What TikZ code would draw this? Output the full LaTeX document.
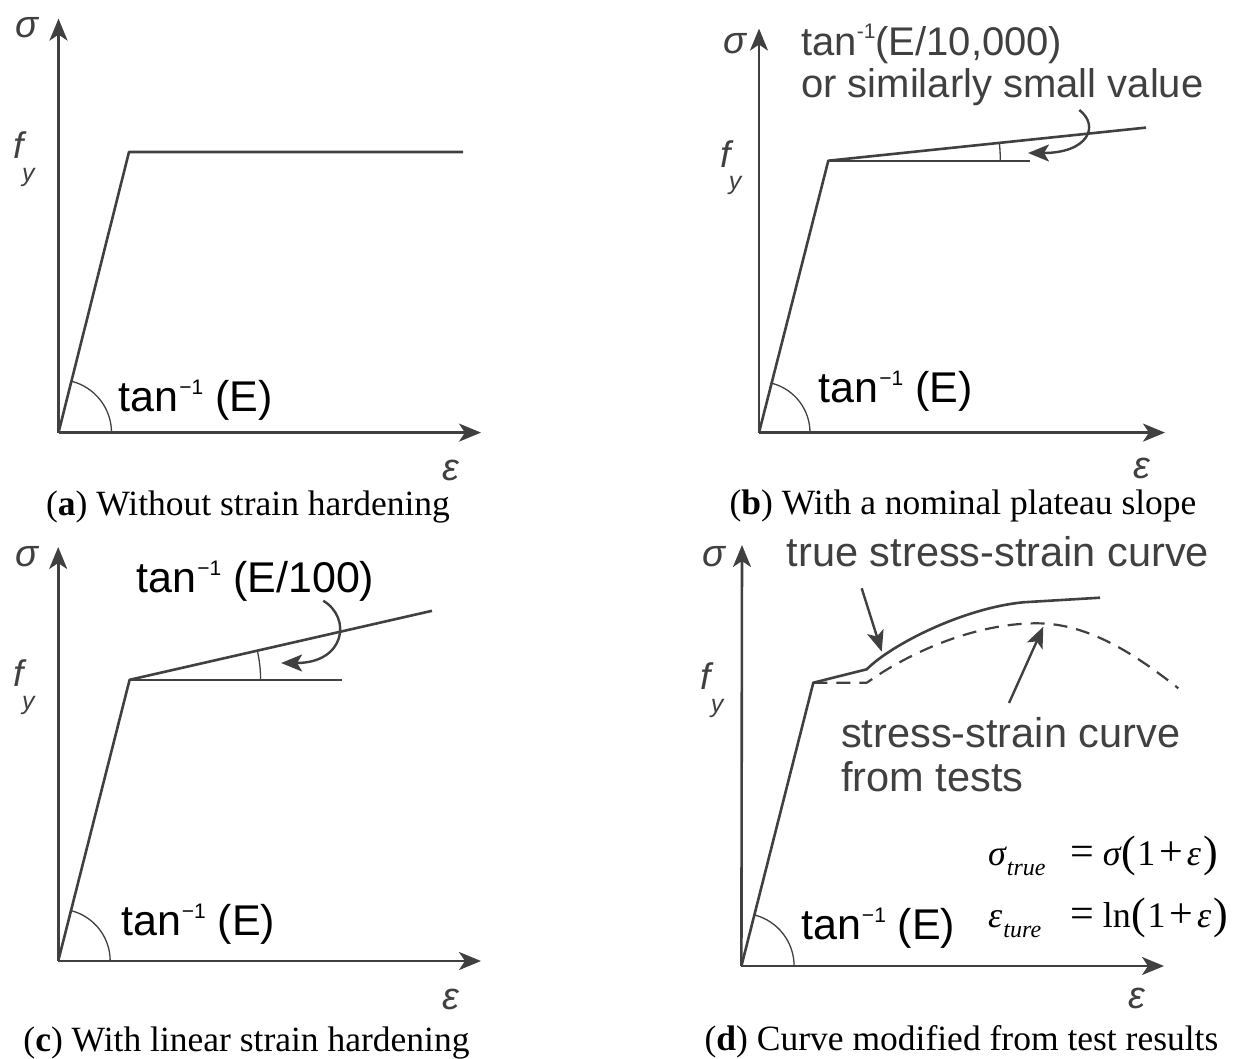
\documentclass[tikz,border=0pt]{standalone}
\usepackage{fontspec}
\newfontfamily\lblfont{Liberation Sans}
\newfontfamily\capfont{Liberation Serif}
\newfontfamily\eqfont{Liberation Serif}
\usetikzlibrary{arrows.meta,angles}
\definecolor{ink}{HTML}{404040}
\newcommand{\eqparen}[1]{{\fontsize{44}{44}\selectfont\raisebox{-1pt}{#1}}}
\newcommand{\eqsub}[1]{\raisebox{-10pt}{\fontsize{24}{24}\selectfont\itshape #1}}
\newcommand{\eqop}[1]{{\fontsize{42}{42}\selectfont #1}}
\newcommand{\eqlhs}[2]{\makebox[82pt][l]{{\itshape #1}\hspace{1pt}\eqsub{#2}}}
\newcommand{\supr}[1]{\raisebox{17pt}{\fontsize{21}{21}\selectfont #1}}
\newcommand{\tanE}[1]{tan\hspace{1pt}\supr{−1} #1}
\begin{document}
\begin{tikzpicture}[x=1pt,y=1pt,
  axis/.style={ink,line width=2.6pt,-{Stealth[length=22pt,width=18pt,inset=6pt]}},
  curve/.style={ink,line width=2.6pt,line join=round},
  guide/.style={ink,line width=1.6pt},
  anglemark/.style={draw=ink,line width=1.3pt},
  pointer/.style={ink,line width=2.4pt,-{Stealth[length=21pt,width=17pt,inset=5pt]}},
  lbl/.style={inner sep=0pt,font=\lblfont\fontsize{40}{42}\selectfont},
  tanlbl/.style={inner sep=0pt,anchor=base west,font=\lblfont\fontsize{43}{45}\selectfont},
  note/.style={lbl,text=ink,align=left},
  bignote/.style={note,font=\lblfont\fontsize{41.5}{44}\selectfont},
  axlbl/.style={inner sep=0pt,text=ink,font=\lblfont\itshape\fontsize{38}{40}\selectfont},
  flbl/.style={inner sep=0pt,text=ink,font=\lblfont\itshape\fontsize{37}{38}\selectfont},
  sublbl/.style={inner sep=0pt,text=ink,font=\lblfont\itshape\fontsize{25}{27}\selectfont},
  captext/.style={inner sep=0pt,font=\capfont\fontsize{35.5}{40}\selectfont},
  eqn/.style={inner sep=0pt,anchor=base west,font=\eqfont\fontsize{36}{40}\selectfont}]
\useasboundingbox (0,0) rectangle (1234,-1058);

\coordinate (oa) at (58.5,-432.6);
\coordinate (ta) at (58.5,-18.6);
\coordinate (xa) at (481,-432.6);
\coordinate (ya) at (129,-152);
\coordinate (pa) at (463,-152);
\draw[axis] (oa) -- (ta);
\draw[axis] (oa) -- (xa);
\draw[curve] (oa) -- (ya) -- (pa);
\pic[anglemark,angle radius=53pt] {angle=xa--oa--ya};
\node[axlbl] (siga) at (27,-28) {σ};
\node[flbl] (fa) at (18.3,-145) {f};
\node[sublbl] (fya) at (28.3,-177) {y};
\node[axlbl] (epsa) at (451,-470) {ε};
\node[tanlbl] (tana) at (118.3,-411.7) {\tanE{(E)}};
\node[captext] (capa) at (248,-507) {(\textbf{a}) Without strain hardening};

\coordinate (ob) at (759,-432.6);
\coordinate (tb) at (759,-28.6);
\coordinate (xb) at (1165,-432.6);
\coordinate (yb) at (828.3,-160.7);
\coordinate (sb) at (1146,-127.6);
\coordinate (hb) at (1030,-160.7);
\coordinate (rb) at (1079.3,-110);
\coordinate (kb) at (1028,-153);
\draw[axis] (ob) -- (tb);
\draw[axis] (ob) -- (xb);
\draw[curve] (ob) -- (yb) -- (sb);
\draw[guide] (yb) -- (hb);
\pic[anglemark,angle radius=51pt] {angle=xb--ob--yb};
\pic[anglemark,angle radius=172pt] {angle=hb--yb--sb};
\draw[pointer] (rb) .. controls (1100,-126) and (1088,-153) .. (kb);
\node[axlbl] (sigb) at (735,-44) {σ};
\node[flbl] (fb) at (726,-154) {f};
\node[sublbl] (fyb) at (735,-185) {y};
\node[axlbl] (epsb) at (1142,-468) {ε};
\node[tanlbl] (tanb) at (818.4,-402.8) {\tanE{(E)}};
\node[note,anchor=west] (noteb) at (801,-65) {tan\supr{-1}(E/10,000)\\or similarly small value};
\node[captext] (capb) at (963,-506) {(\textbf{b}) With a nominal plateau slope};

\coordinate (oc) at (58.2,-961);
\coordinate (tc) at (58.2,-547);
\coordinate (xc) at (481,-961);
\coordinate (yc) at (129.6,-679.8);
\coordinate (sc) at (432,-610.8);
\coordinate (hc) at (341.7,-679.8);
\coordinate (rc) at (323.2,-600.7);
\coordinate (kc) at (281.1,-663);
\draw[axis] (oc) -- (tc);
\draw[axis] (oc) -- (xc);
\draw[curve] (oc) -- (yc) -- (sc);
\draw[guide] (yc) -- (hc);
\pic[anglemark,angle radius=52pt] {angle=xc--oc--yc};
\pic[anglemark,angle radius=131pt] {angle=hc--yc--sc};
\draw[pointer] (rc) .. controls (352,-618) and (345,-663) .. (kc);
\node[axlbl] (sigc) at (27,-557) {σ};
\node[flbl] (fc) at (18.3,-673) {f};
\node[sublbl] (fyc) at (28.3,-705) {y};
\node[axlbl] (epsc) at (451,-999) {ε};
\node[tanlbl] (tanc) at (121,-935) {\tanE{(E)}};
\node[tanlbl] (notec) at (136.4,-592) {\tanE{(E/100)}};
\node[captext] (capc) at (246.5,-1043) {(\textbf{c}) With linear strain hardening};

\coordinate (od) at (741.4,-966);
\coordinate (td) at (742,-545);
\coordinate (xd) at (1164,-966);
\coordinate (yd) at (813.3,-682.7);
\coordinate (kd) at (866.7,-669.3);
\coordinate (ud) at (1023,-602.3);
\coordinate (ed) at (1100,-597.7);
\coordinate (jd) at (866.7,-682.7);
\coordinate (gd) at (883.3,-671.7);
\coordinate (md) at (1036.7,-623.3);
\coordinate (nd) at (1178.3,-688.3);
\coordinate (ta1) at (861.7,-588.3);
\coordinate (tp1) at (881.7,-651.7);
\coordinate (ta2) at (1009,-703);
\coordinate (tp2) at (1043.3,-626.7);
\draw[axis] (od) -- (td);
\draw[axis] (od) -- (xd);
\draw[curve] (od) -- (yd) -- (kd) .. controls (891.7,-644.3) and (963,-608.3) .. (ud) -- (ed);
\draw[curve,line width=2.2pt,dash pattern=on 14pt off 9pt] (yd) -- (jd) -- (gd) .. controls (935,-640) and (990,-623.3) .. (md) .. controls (1085,-623.3) and (1130,-650) .. (nd);
\pic[anglemark,angle radius=52.7pt] {angle=xd--od--yd};
\draw[pointer] (ta1) -- (tp1);
\draw[pointer] (ta2) -- (tp2);
\node[axlbl] (sigd) at (714,-557) {σ};
\node[flbl] (fd) at (706,-676) {f};
\node[sublbl] (fyd) at (717,-708) {y};
\node[axlbl] (epsd) at (1137,-998) {ε};
\node[tanlbl] (tand) at (801,-939.5) {\tanE{(E)}};
\node[bignote] (trued) at (998,-552) {true stress-strain curve};
\node[bignote,anchor=west] (testd) at (841,-755) {stress-strain curve\\from tests};
\node[eqn] (eqs) at (988,-865) {\eqlhs{σ}{true}\eqop{=}\hspace{9pt}{\itshape σ}\hspace{1pt}\eqparen{(}\hspace{1pt}1\hspace{4pt}\eqop{+}\hspace{4pt}{\itshape ε}\hspace{2pt}\eqparen{)}};
\node[eqn] (eqe) at (988,-927) {\eqlhs{ε}{ture}\eqop{=}\hspace{9pt}ln\hspace{1pt}\eqparen{(}\hspace{1pt}1\hspace{4pt}\eqop{+}\hspace{4pt}{\itshape ε}\hspace{2pt}\eqparen{)}};
\node[captext] (capd) at (961.5,-1042) {(\textbf{d}) Curve modified from test results};
\end{tikzpicture}
\end{document}
